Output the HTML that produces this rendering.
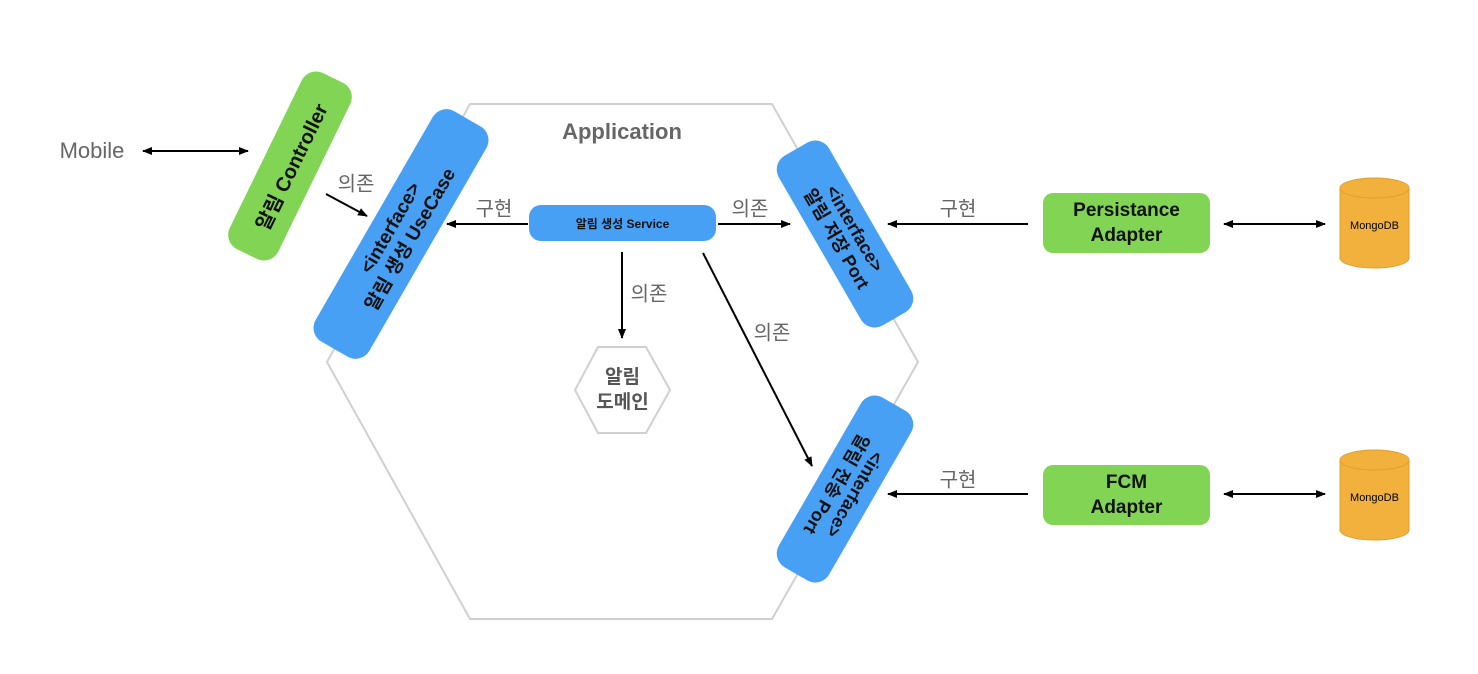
<!DOCTYPE html>
<html><head><meta charset="utf-8"><style>
body{margin:0;width:1478px;height:674px;background:#fff;overflow:hidden;position:relative;font-family:"Liberation Sans","Noto Sans CJK KR",sans-serif}
.p{position:absolute;display:flex;align-items:center;justify-content:center;text-align:center;font-weight:bold;color:#111;box-sizing:border-box}
.t{position:absolute;color:#666;font-size:20px;transform:translate(-50%,-50%);white-space:nowrap}
</style></head><body>
<svg width="1478" height="674" style="position:absolute;left:0;top:0">
<defs><marker id="a" markerWidth="10" markerHeight="10" refX="9" refY="5" orient="auto" markerUnits="userSpaceOnUse"><path d="M0,1 L10,5 L0,9 z" fill="#000"/></marker>
<marker id="b" markerWidth="10" markerHeight="10" refX="1" refY="5" orient="auto" markerUnits="userSpaceOnUse"><path d="M10,1 L0,5 L10,9 z" fill="#000"/></marker></defs>
<polygon points="470,104 772,104 918,362 772,619 470,619 327,362" fill="none" stroke="#d0d0d0" stroke-width="2"/>
<polygon points="598,347 646,347 670,390 646,433 598,433 575,390" fill="#fff" stroke="#d0d0d0" stroke-width="2"/>
<g stroke="#000" stroke-width="2">
<line x1="143" y1="151" x2="248" y2="151" marker-start="url(#b)" marker-end="url(#a)"/>
<line x1="326" y1="194" x2="367" y2="216" marker-end="url(#a)"/>
<line x1="528" y1="224" x2="447" y2="224" marker-end="url(#a)"/>
<line x1="718" y1="224" x2="790" y2="224" marker-end="url(#a)"/>
<line x1="622" y1="252" x2="622" y2="338" marker-end="url(#a)"/>
<line x1="703" y1="253" x2="812" y2="466" marker-end="url(#a)"/>
<line x1="1028" y1="224" x2="888" y2="224" marker-end="url(#a)"/>
<line x1="1028" y1="494" x2="888" y2="494" marker-end="url(#a)"/>
<line x1="1224" y1="224" x2="1325" y2="224" marker-start="url(#b)" marker-end="url(#a)"/>
<line x1="1224" y1="494" x2="1325" y2="494" marker-start="url(#b)" marker-end="url(#a)"/>
</g>
<g fill="#f2b13c" stroke="#e0a030" stroke-width="1">
<path d="M1340,188 v70 a34.5,10 0 0 0 69,0 v-70 z"/><ellipse cx="1374.5" cy="188" rx="34.5" ry="10"/>
<path d="M1340,460 v70 a34.5,10 0 0 0 69,0 v-70 z"/><ellipse cx="1374.5" cy="460" rx="34.5" ry="10"/>
</g>
<text x="1374.5" y="229" font-size="11" text-anchor="middle" font-family="Liberation Sans">MongoDB</text>
<text x="1374.5" y="501" font-size="11" text-anchor="middle" font-family="Liberation Sans">MongoDB</text>
</svg>
<div class="t" style="left:92px;top:151px;font-size:22px">Mobile</div>
<div class="t" style="left:622px;top:132px;font-size:22px;font-weight:bold">Application</div>
<div class="t" style="left:356px;top:182px">의존</div>
<div class="t" style="left:494px;top:207px">구현</div>
<div class="t" style="left:750px;top:207px">의존</div>
<div class="t" style="left:649px;top:292px">의존</div>
<div class="t" style="left:772px;top:331px">의존</div>
<div class="t" style="left:958px;top:207px">구현</div>
<div class="t" style="left:958px;top:478px">구현</div>
<div class="p" style="left:192px;top:139px;width:196px;height:54px;background:#82d454;border-radius:16px;transform:rotate(-64deg);font-size:20px">알림 Controller</div>
<div class="p" style="left:268px;top:203px;width:266px;height:62px;background:#48a0f5;border-radius:16px;transform:rotate(-60deg);font-size:19px;line-height:23px">&lt;interface&gt;<br>알림 생성 UseCase</div>
<div class="p" style="left:747px;top:205px;width:196px;height:58px;background:#48a0f5;border-radius:16px;transform:rotate(60deg);font-size:18px;line-height:21px">&lt;interface&gt;<br>알림 저장 Port</div>
<div class="p" style="left:747px;top:460px;width:196px;height:58px;background:#48a0f5;border-radius:16px;transform:rotate(120deg);font-size:18px;line-height:21px">&lt;interface&gt;<br>알림 전송 Port</div>
<div class="p" style="left:529px;top:205px;width:187px;height:36px;background:#48a0f5;border-radius:12px;font-size:12px">알림 생성 Service</div>
<div class="p" style="left:575px;top:360px;width:95px;height:60px;font-size:19px;color:#555;line-height:25px">알림<br>도메인</div>
<div class="p" style="left:1043px;top:193px;width:167px;height:60px;background:#82d454;border-radius:10px;font-size:19px;line-height:25px">Persistance<br>Adapter</div>
<div class="p" style="left:1043px;top:465px;width:167px;height:60px;background:#82d454;border-radius:10px;font-size:19px;line-height:25px">FCM<br>Adapter</div>
</body></html>
